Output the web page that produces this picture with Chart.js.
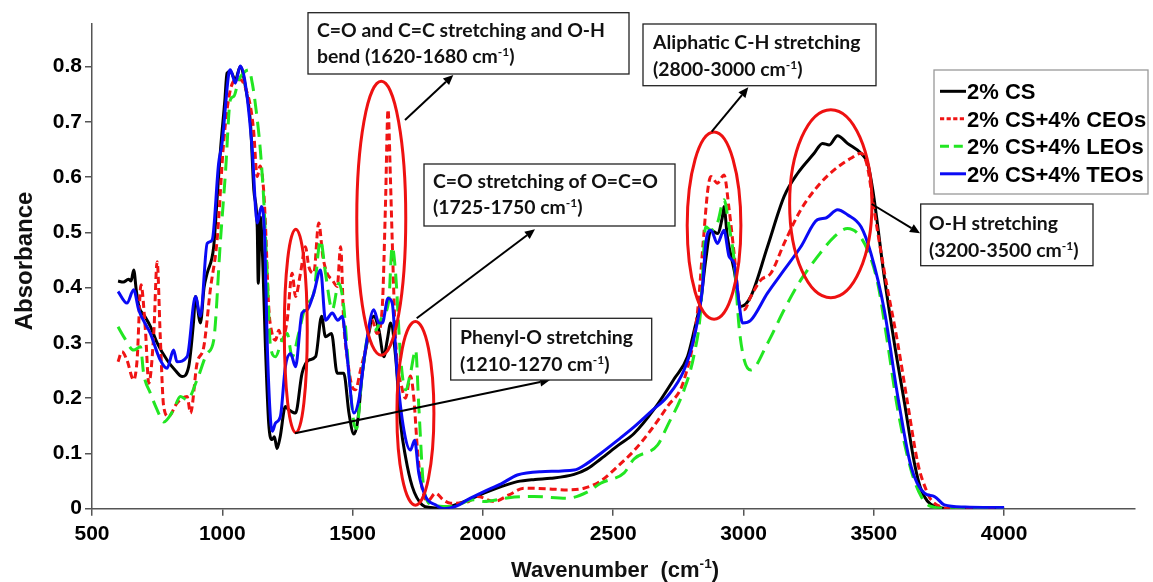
<!DOCTYPE html>
<html><head><meta charset="utf-8">
<script src="https://cdn.jsdelivr.net/npm/chart.js@4.4.1/dist/chart.umd.min.js"></script>
<style>html,body{margin:0;padding:0;background:#fff;}#wrap{position:relative;width:1153px;height:582px;}</style>
</head><body><div id="wrap"><canvas id="c" width="1153" height="582"></canvas></div>
<script>
// ---------- data ----------
const seriesNames = ['2% CS', '2% CS+4% CEOs', '2% CS+4% LEOs', '2% CS+4% TEOs'];
const xTicks = [500, 1000, 1500, 2000, 2500, 3000, 3500, 4000];
const yTicks = [0, 0.1, 0.2, 0.3, 0.4, 0.5, 0.6, 0.7, 0.8];
const xTitle = 'Wavenumber  (cm^{-1})';
const yTitle = 'Absorbance';

const csWave = [600,620,640,650,660,670,680,700,724,750,788,820,846,871,890,897,916,930,942,967,980,993,1010,1018,1031,1050,1069,1090,1108,1121,1134,1138,1146,1155,1165,1178,1191,1200,1210,1222,1242,1255,1281,1306,1332,1358,1381,1396,1419,1441,1466,1486,1505,1520,1537,1562,1581,1601,1620,1633,1646,1665,1684,1703,1729,1767,1800,1850,1877,1940,2004,2070,2132,2200,2260,2350,2400,2452,2520,2580,2657,2734,2785,2811,2836,2855,2875,2900,2919,2925,2938,2964,2990,3028,3092,3156,3208,3271,3303,3329,3361,3399,3451,3476,3496,3540,3579,3618,3656,3682,3733,3800,3850,3900,4000];
const csAbs  = [0.412,0.410,0.415,0.412,0.432,0.395,0.366,0.350,0.330,0.300,0.269,0.250,0.239,0.257,0.340,0.384,0.336,0.400,0.426,0.474,0.560,0.649,0.740,0.788,0.791,0.776,0.800,0.760,0.698,0.577,0.510,0.408,0.528,0.450,0.300,0.155,0.125,0.130,0.109,0.130,0.185,0.179,0.173,0.245,0.269,0.275,0.348,0.311,0.317,0.245,0.245,0.173,0.135,0.160,0.245,0.317,0.348,0.323,0.275,0.305,0.336,0.275,0.155,0.094,0.040,0.007,0.002,0.000,0.004,0.015,0.028,0.040,0.049,0.053,0.055,0.062,0.072,0.090,0.115,0.136,0.180,0.235,0.275,0.323,0.377,0.450,0.504,0.498,0.528,0.547,0.492,0.432,0.366,0.384,0.474,0.565,0.607,0.643,0.661,0.658,0.675,0.661,0.643,0.625,0.577,0.420,0.299,0.191,0.082,0.034,0.004,0.000,0.002,0.000,0.000];

const ceoWave = [600,615,634,660,673,688,705,718,737,750,762,775,794,826,865,878,903,929,954,980,1006,1031,1057,1069,1090,1108,1120,1134,1145,1158,1166,1178,1191,1204,1217,1229,1249,1268,1281,1300,1319,1332,1351,1370,1386,1402,1422,1441,1454,1466,1479,1498,1511,1530,1549,1575,1594,1614,1626,1636,1645,1652,1665,1691,1703,1722,1735,1750,1770,1790,1818,1850,1877,1940,1979,2043,2100,2158,2250,2324,2388,2452,2516,2580,2644,2708,2772,2823,2845,2863,2875,2900,2925,2945,2964,2990,3003,3028,3067,3105,3156,3220,3284,3348,3412,3451,3475,3501,3540,3592,3630,3669,3700,3720,3760,3800,4000];
const ceoAbs  = [0.266,0.284,0.269,0.233,0.269,0.405,0.323,0.227,0.317,0.447,0.311,0.185,0.167,0.191,0.203,0.173,0.263,0.293,0.396,0.486,0.667,0.758,0.776,0.776,0.760,0.728,0.685,0.601,0.620,0.580,0.510,0.366,0.317,0.305,0.323,0.305,0.341,0.426,0.384,0.426,0.474,0.438,0.426,0.517,0.456,0.426,0.414,0.402,0.474,0.336,0.275,0.221,0.215,0.250,0.287,0.341,0.317,0.366,0.547,0.722,0.600,0.486,0.305,0.215,0.200,0.240,0.200,0.100,0.030,0.015,0.028,0.015,0.010,0.012,0.022,0.013,0.025,0.037,0.036,0.034,0.037,0.050,0.076,0.105,0.142,0.185,0.233,0.354,0.480,0.577,0.601,0.589,0.604,0.541,0.462,0.360,0.360,0.384,0.414,0.426,0.480,0.541,0.583,0.613,0.634,0.643,0.620,0.541,0.430,0.299,0.190,0.082,0.035,0.016,0.003,0.000,0.000];

const leoWave = [600,622,660,686,698,724,750,775,813,839,865,903,942,967,993,1012,1031,1044,1063,1085,1102,1115,1128,1146,1159,1172,1185,1204,1229,1249,1268,1293,1319,1351,1377,1396,1422,1447,1466,1486,1505,1515,1537,1562,1588,1614,1639,1652,1665,1684,1703,1722,1742,1754,1774,1806,1877,1966,2004,2100,2196,2324,2400,2452,2542,2580,2670,2708,2772,2811,2836,2855,2875,2900,2925,2945,2964,2983,3003,3028,3092,3156,3220,3284,3348,3399,3438,3476,3515,3553,3592,3643,3682,3720,3800,4000];
const leoAbs  = [0.329,0.311,0.287,0.293,0.245,0.209,0.179,0.157,0.179,0.203,0.197,0.233,0.281,0.305,0.486,0.607,0.740,0.746,0.776,0.790,0.794,0.770,0.728,0.649,0.559,0.426,0.293,0.275,0.305,0.317,0.275,0.317,0.366,0.390,0.486,0.426,0.360,0.408,0.366,0.245,0.155,0.145,0.245,0.317,0.323,0.348,0.378,0.474,0.426,0.275,0.215,0.245,0.287,0.185,0.034,0.007,0.004,0.016,0.013,0.020,0.022,0.019,0.030,0.046,0.065,0.090,0.115,0.150,0.215,0.280,0.360,0.510,0.504,0.517,0.559,0.510,0.450,0.329,0.269,0.251,0.299,0.360,0.414,0.456,0.492,0.507,0.498,0.468,0.408,0.299,0.179,0.070,0.022,0.004,0.000,0.000];

const teoWave = [600,634,660,679,724,762,788,813,826,865,897,916,942,961,986,999,1025,1031,1050,1069,1088,1114,1134,1150,1163,1172,1185,1192,1204,1223,1242,1262,1281,1306,1326,1351,1377,1396,1422,1443,1460,1479,1505,1524,1549,1581,1601,1614,1636,1652,1671,1697,1722,1738,1754,1780,1818,1851,1900,1940,2004,2070,2132,2222,2350,2400,2452,2520,2580,2650,2708,2772,2811,2842,2855,2875,2900,2925,2945,2964,2983,2996,3028,3092,3156,3220,3284,3316,3361,3399,3451,3489,3540,3592,3643,3694,3733,3771,3850,4000];
const teoAbs  = [0.393,0.372,0.396,0.360,0.317,0.269,0.254,0.287,0.266,0.275,0.384,0.348,0.480,0.486,0.625,0.661,0.788,0.794,0.770,0.801,0.770,0.655,0.517,0.547,0.486,0.305,0.161,0.140,0.155,0.167,0.257,0.281,0.257,0.354,0.360,0.390,0.432,0.341,0.354,0.341,0.348,0.275,0.173,0.197,0.287,0.360,0.336,0.336,0.381,0.372,0.245,0.142,0.106,0.124,0.064,0.022,0.007,0.000,0.005,0.016,0.031,0.045,0.061,0.067,0.070,0.082,0.100,0.125,0.148,0.178,0.203,0.251,0.311,0.396,0.480,0.504,0.480,0.504,0.456,0.444,0.372,0.336,0.341,0.390,0.432,0.474,0.523,0.526,0.541,0.532,0.510,0.462,0.360,0.203,0.076,0.028,0.022,0.007,0.003,0.002];

// ---------- styling / annotation config ----------
const seriesStyle = [
  {color:'#000000', dash:[]},
  {color:'#f01414', dash:[7,4]},
  {color:'#22e622', dash:[15,8]},
  {color:'#0a0af5', dash:[]}
];
const ellipses = [
  {cx:1282, cy:0.3217, rx:44, ry:0.184},
  {cx:1610, cy:0.5255, rx:94, ry:0.2477},
  {cx:1741, cy:0.1726, rx:71, ry:0.1662},
  {cx:2887, cy:0.5122, rx:103, ry:0.1692},
  {cx:3335, cy:0.5519, rx:158, ry:0.1701}
];
const notes = [
  {box:[308,12.7,629,74], tx:317, base:[37.3,63.3], lines:['C=O and C=C stretching and O-H','bend (1620-1680 cm^{-1})']},
  {box:[643,24,876,85.7], tx:653, base:[49.3,76], lines:['Aliphatic C-H stretching','(2800-3000 cm^{-1})']},
  {box:[424,164,675,226], tx:433, base:[188.3,214], lines:['C=O stretching of O=C=O','(1725-1750 cm^{-1})']},
  {box:[450.7,318.3,651.7,380], tx:460, base:[344,370.7], lines:['Phenyl-O stretching','(1210-1270 cm^{-1})']},
  {box:[920.7,204,1093,265.7], tx:929, base:[230,256.7], lines:['O-H stretching','(3200-3500 cm^{-1})']}
];
const arrows = [
  [405,120,453.3,75],
  [416.7,318.3,535,229.3],
  [295,433.3,550,380],
  [711.7,131.7,748.3,87.3],
  [871.7,204,920,233.3]
];
const legendBox = [934,70,1148,194];

const BOLD = 'Liberation Sans, Arial, sans-serif';
const NOTEF = 'Lato, Open Sans, sans-serif';

function parseRich(s){
  const parts=[]; const re=/\^\{([^}]*)\}/g; let last=0, m;
  while((m=re.exec(s))){ if(m.index>last) parts.push({t:s.slice(last,m.index)}); parts.push({t:m[1],sup:true}); last=re.lastIndex; }
  if(last<s.length) parts.push({t:s.slice(last)});
  return parts;
}
function richWidth(ctx, s, size, fam){
  let w=0; for(const p of parseRich(s)){ ctx.font=`bold ${p.sup?size*0.62:size}px ${fam}`; w+=ctx.measureText(p.t).width; } return w;
}
function drawRich(ctx, s, x, y, size, fam){
  let cx=x;
  for(const p of parseRich(s)){
    ctx.font=`bold ${p.sup?size*0.62:size}px ${fam}`;
    ctx.fillText(p.t, cx, p.sup? y-size*0.4 : y);
    cx+=ctx.measureText(p.t).width;
  }
  return cx-x;
}

const annoPlugin = {
  id:'anno',
  afterDatasetsDraw(chart){
    const ctx=chart.ctx, xs=chart.scales.x, ys=chart.scales.y;
    ctx.save();
    // ellipses
    ctx.strokeStyle='#ee1111'; ctx.lineWidth=3; ctx.setLineDash([]);
    for(const e of ellipses){
      const px=xs.getPixelForValue(e.cx), py=ys.getPixelForValue(e.cy);
      const rx=Math.abs(xs.getPixelForValue(e.cx+e.rx)-px), ry=Math.abs(ys.getPixelForValue(e.cy+e.ry)-py);
      ctx.beginPath(); ctx.ellipse(px,py,rx,ry,0,0,Math.PI*2); ctx.stroke();
    }
    // arrows
    ctx.strokeStyle='#000'; ctx.fillStyle='#000'; ctx.lineWidth=2;
    for(const [x1,y1,x2,y2] of arrows){
      const a=Math.atan2(y2-y1,x2-x1), L=10, W=4.5;
      const bx=x2-L*Math.cos(a), by=y2-L*Math.sin(a);
      ctx.beginPath(); ctx.moveTo(x1,y1); ctx.lineTo(bx,by); ctx.stroke();
      ctx.beginPath(); ctx.moveTo(x2,y2);
      ctx.lineTo(bx+W*Math.sin(a), by-W*Math.cos(a));
      ctx.lineTo(bx-W*Math.sin(a), by+W*Math.cos(a)); ctx.closePath(); ctx.fill();
    }
    // note boxes
    const nsize=18;
    const sx = 288 / richWidth(ctx, notes[0].lines[0], nsize, NOTEF);
    for(const n of notes){
      const [l,t,r,b]=n.box;
      ctx.fillStyle='#fff'; ctx.fillRect(l,t,r-l,b-t);
      ctx.strokeStyle='#222'; ctx.lineWidth=1.3; ctx.strokeRect(l,t,r-l,b-t);
      ctx.fillStyle='#111'; ctx.textBaseline='alphabetic'; ctx.textAlign='left';
      n.lines.forEach((s,i)=>{ ctx.save(); ctx.translate(n.tx,n.base[i]); ctx.scale(sx,1); drawRich(ctx,s,0,0,nsize,NOTEF); ctx.restore(); });
    }
    // legend
    const [ll,lt,lr,lb]=legendBox;
    ctx.fillStyle='#fff'; ctx.fillRect(ll,lt,lr-ll,lb-lt);
    ctx.strokeStyle='#999'; ctx.lineWidth=1.3; ctx.strokeRect(ll,lt,lr-ll,lb-lt);
    seriesNames.forEach((nm,i)=>{
      const base=99.3+i*27.5, st=seriesStyle[i];
      ctx.strokeStyle=st.color; ctx.lineWidth=3; ctx.setLineDash(st.dash.length?[st.dash[0]*0.6,st.dash[1]*0.6]:[]);
      ctx.beginPath(); ctx.moveTo(940,base-8); ctx.lineTo(966,base-8); ctx.stroke();
      ctx.setLineDash([]);
      ctx.fillStyle='#000'; ctx.font=`bold 22px ${BOLD}`; ctx.textAlign='left'; ctx.textBaseline='alphabetic';
      ctx.fillText(nm, 967, base);
    });
    // axis titles
    ctx.fillStyle='#111';
    const tw=richWidth(ctx,xTitle,22,BOLD);
    drawRich(ctx,xTitle,615-tw/2,577,22,BOLD);
    ctx.save(); ctx.translate(32,261); ctx.rotate(-Math.PI/2);
    ctx.font=`bold 24px ${BOLD}`; ctx.textAlign='center'; ctx.fillText(yTitle,0,0); ctx.restore();
    ctx.restore();
  }
};

function pts(xs, ys){ return xs.map((v,i)=>({x:v, y:ys[i]})); }
const waves=[csWave,ceoWave,leoWave,teoWave], abss=[csAbs,ceoAbs,leoAbs,teoAbs];
const datasets = seriesNames.map((nm,i)=>({
  label:nm, data:pts(waves[i],abss[i]), borderColor:seriesStyle[i].color, borderDash:seriesStyle[i].dash,
  borderWidth:3, pointRadius:0, fill:false, cubicInterpolationMode:'monotone', order:4-i
}));

const axisCommon = {
  grid:{display:true, drawOnChartArea:false, drawTicks:true, tickLength:7, color:'#555', lineWidth:1.5},
  border:{display:true, color:'#555', width:1.5}
};
new Chart(document.getElementById('c'), {
  type:'line',
  data:{datasets},
  plugins:[annoPlugin],
  options:{
    responsive:false, animation:false,
    layout:{padding:{top:24, right:18.6, left:0, bottom:0}},
    plugins:{legend:{display:false}, tooltip:{enabled:false}},
    scales:{
      x:Object.assign({type:'linear', min:500, max:4500,
        afterFit(s){ s.height=73.3; },
        afterBuildTicks(s){ s.ticks=xTicks.map(v=>({value:v})); },
        ticks:{font:{family:BOLD,size:21,weight:'bold'}, color:'#000', padding:6, maxRotation:0, autoSkip:false, callback:v=>String(v)}
      }, axisCommon),
      y:Object.assign({type:'linear', min:0, max:0.877,
        afterFit(s){ s.width=92; },
        afterBuildTicks(s){ s.ticks=yTicks.map(v=>({value:v})); },
        ticks:{font:{family:BOLD,size:21,weight:'bold'}, color:'#000', padding:3, autoSkip:false, callback:v=>v===0?'0':v.toFixed(1)}
      }, axisCommon)
    }
  }
});
</script></body></html>
